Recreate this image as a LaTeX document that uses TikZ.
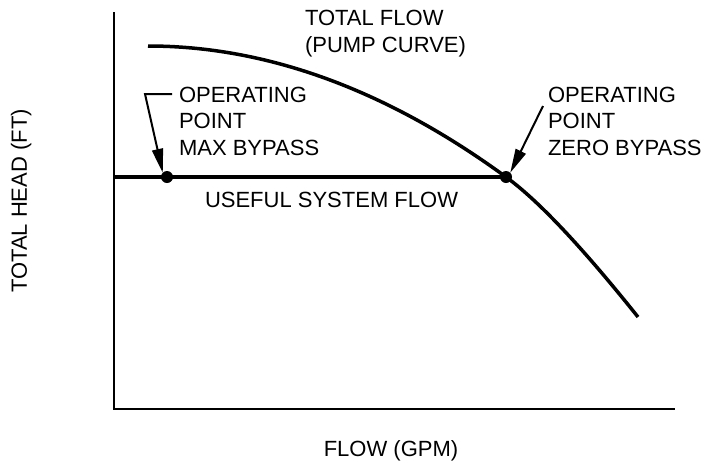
\documentclass[tikz,border=0pt]{standalone}
\usepackage{fontspec}
\setmainfont{Liberation Sans}
\usepackage{tikz}
\usetikzlibrary{arrows.meta}
\tikzstyle{every node}=[inner sep=0pt,outer sep=0pt]
\tikzstyle{lbl}=[font=\fontsize{22}{26.5}\selectfont,align=left]
\tikzstyle{axis}=[line width=2pt]
\tikzstyle{curve}=[line width=3.5pt]
\tikzstyle{leader}=[line width=2pt,-{Triangle[length=24pt,width=11pt]}]
\tikzstyle{opdot}=[circle,fill=black,minimum size=12pt]

\begin{document}
\begin{tikzpicture}[x=1pt,y=-1pt]
		\useasboundingbox (0,0) rectangle (706,464);
		% axes
		\coordinate (top) at (114,12);
		\coordinate (origin) at (114,409);
		\coordinate (right) at (675,409);
		\draw[axis] (top) -- (origin) -- (right);
		% operating points
		\node[opdot] (maxpt) at (167,177) {};
		\node[opdot] (zeropt) at (506,177) {};
		% useful system flow and pump curve
		\coordinate (shutoff) at (148,46);
		\coordinate (runout) at (638,317);
		\draw[curve] (origin |- zeropt) -- (zeropt.center);
		\draw[curve] (shutoff) .. controls (267,46) and (387,90) .. (zeropt.center)
			.. controls (546,206) and (598,267) .. (runout);
		% labels
		\node[lbl,anchor=base west] (pump) at (305,52) {TOTAL FLOW\\(PUMP CURVE)};
		\node[lbl,anchor=base west] (maxlbl) at (179,155) {OPERATING\\POINT\\MAX BYPASS};
		\node[lbl,anchor=base west] (zerolbl) at (548,155) {OPERATING\\POINT\\ZERO BYPASS};
		\node[lbl,anchor=base west] (useful) at (205,207) {USEFUL SYSTEM FLOW};
		\node[lbl,anchor=base] (xlbl) at (391,456) {FLOW (GPM)};
		\node[lbl,anchor=base,rotate=90] (ylbl) at (27,201) {TOTAL HEAD (FT)};
		% leaders
		\coordinate (maxbend) at (145,94);
		\draw[leader] (172,94) -- (maxbend) -- (maxpt.north west);
		\draw[leader] (543,106) -- (zeropt.north east);
\end{tikzpicture}
\end{document}
